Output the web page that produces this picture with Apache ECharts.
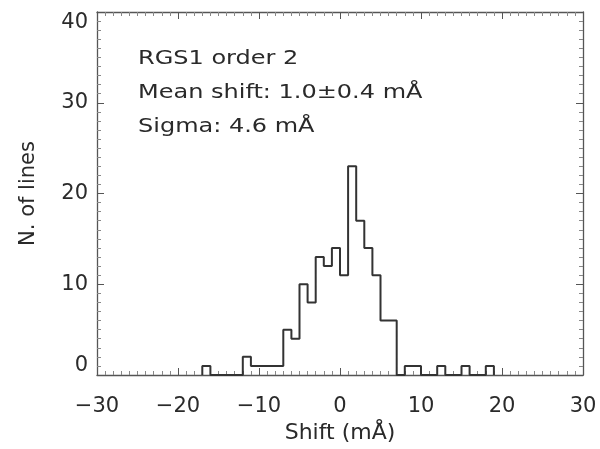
<!DOCTYPE html>
<html>
<head>
<meta charset="utf-8">
<script src="https://cdn.jsdelivr.net/npm/echarts@6/dist/echarts.min.js"></script>
<style>html,body{margin:0;padding:0;background:#fff}#c{width:600px;height:449px}</style>
</head>
<body>
<div id="c"></div>
<script>
// Histogram bins (left edges, width 1 mÅ) and counts
var binEdges = [-17,-16,-15,-14,-13,-12,-11,-10,-9,-8,-7,-6,-5,-4,-3,-2,-1,0,1,2,3,4,5,6,7,8,9,10,11,12,13,14,15,16,17,18,19];
var counts   = [1,0,0,0,0,2,1,1,1,1,5,4,10,8,13,12,14,11,23,17,14,11,6,6,0,1,1,0,0,1,0,0,1,0,0,1];
var xTicks = [-30,-20,-10,0,10,20,30];
var yTicks = [0,10,20,30,40];
var annotations = ['RGS1 order 2', 'Mean shift: 1.0\u00b10.4 m\u00c5', 'Sigma: 4.6 m\u00c5'];
var xName = 'Shift (m\u00c5)';
var yName = 'N. of lines';

var stepData = [[binEdges[0], 0]];
for (var i = 0; i < counts.length; i++) stepData.push([binEdges[i], counts[i]]);
stepData.push([binEdges[binEdges.length - 1], 0]);

var FONT = 'DejaVu Sans';
var TXT = '#2a2a2a';
var AX = '#555';
function fmt(v){ return String(v).replace('-', '\u2212'); }
var yMin = yTicks[0], yMax = yTicks[yTicks.length-1];
function fmtY(v){
  if (v === yMin) return '{lo|' + fmt(v) + '}';
  if (v === yMax) return '{hi|' + fmt(v) + '}';
  return fmt(v);
}

var baseX = {
  type: 'value', min: xTicks[0], max: xTicks[xTicks.length-1], interval: 10,
  axisLine: {show: true, onZero: false, lineStyle: {color: AX, width: 1.3}},
  axisTick: {show: true, inside: true, length: 7, lineStyle: {color: AX}},
  minorTick: {show: true, splitNumber: 10, length: 4, lineStyle: {color: '#888'}},
  splitLine: {show: false}, minorSplitLine: {show: false}
};
var baseY = {
  type: 'value', min: yMin, max: yMax, interval: 10,
  axisLine: {show: true, onZero: false, lineStyle: {color: AX, width: 1.3}},
  axisTick: {show: true, inside: true, length: 7, lineStyle: {color: AX}},
  minorTick: {show: true, splitNumber: 10, length: 4, lineStyle: {color: '#888'}},
  splitLine: {show: false}, minorSplitLine: {show: false}
};

var chart = echarts.init(document.getElementById('c'), null, {renderer: 'canvas'});
chart.setOption({
  animation: false,
  backgroundColor: '#fff',
  grid: {left: 97, right: 17, top: 12, bottom: 74},
  xAxis: [
    Object.assign({}, baseX, {
      position: 'bottom',
      name: xName, nameLocation: 'middle', nameGap: 47,
      nameTextStyle: {fontFamily: FONT, fontSize: 22, color: TXT},
      axisLabel: {show: true, margin: 21, fontFamily: FONT, fontSize: 21, color: TXT, formatter: fmt}
    }),
    Object.assign({}, baseX, {position: 'top', axisLabel: {show: false}})
  ],
  yAxis: [
    Object.assign({}, baseY, {
      position: 'left',
      name: yName, nameLocation: 'middle', nameGap: 58, nameRotate: 90,
      nameTextStyle: {fontFamily: FONT, fontSize: 21, color: TXT},
      axisLabel: {show: true, margin: 9, fontFamily: FONT, fontSize: 21, color: TXT, formatter: fmtY,
        rich: {
          lo: {fontFamily: FONT, fontSize: 21, color: TXT, padding: [0, 0, 18, 0]},
          hi: {fontFamily: FONT, fontSize: 21, color: TXT, padding: [22, 0, 0, 0]}
        }}
    }),
    Object.assign({}, baseY, {position: 'right', axisLabel: {show: false}})
  ],
  series: [{
    type: 'line', step: 'end', xAxisIndex: 0, yAxisIndex: 0,
    data: stepData, showSymbol: false, symbol: 'none',
    lineStyle: {color: '#333', width: 2}, z: 5
  }],
  graphic: annotations.map(function(t, k){
    return {type: 'text', left: 138, top: 49 + k * 34, scaleX: 1.2,
      style: {text: t, fontFamily: FONT, fontSize: 20, fill: TXT}};
  })
});
</script>
</body>
</html>
